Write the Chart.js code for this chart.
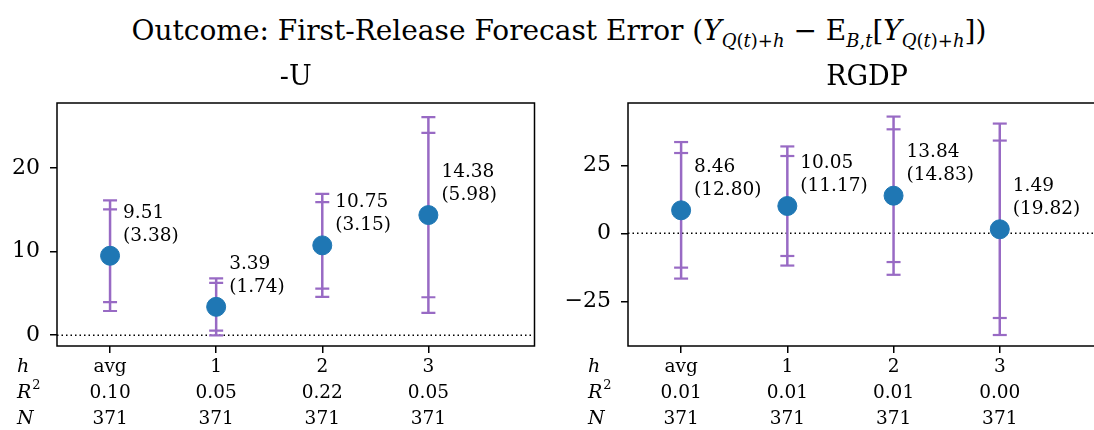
<!DOCTYPE html>
<html>
<head>
<meta charset="utf-8">
<script src="https://cdn.jsdelivr.net/npm/chart.js"></script>
<style>
    body {
        margin: 0;
        padding: 0;
        background: white;
        overflow: hidden;
        width: 1094px;
        height: 430px;
        position: relative;
        font-family: 'DejaVu Serif', serif;
    }
    #title {
        position: absolute;
        left: 559px;
        top: 14px;
        transform: translateX(-50%);
        white-space: nowrap;
        font-size: 28px;
        line-height: 34px;
        color: black;
    }
    #title sub {
        font-size: 18px;
        line-height: 0;
    }
    .panel {
        position: absolute;
        top: 0;
        height: 430px;
        overflow: hidden;
    }
    #left_panel { left: 0; width: 545px; }
    #right_panel { left: 545px; width: 549px; }
</style>
</head>
<body>
<div id="title">Outcome: First-Release Forecast Error (<i>Y</i><sub><i>Q</i>(<i>t</i>)+<i>h</i></sub> − E<sub><i>B</i>,<i>t</i></sub>[<i>Y</i><sub><i>Q</i>(<i>t</i>)+<i>h</i></sub>])</div>
<div class="panel" id="left_panel"><canvas id="chart_u" width="545" height="430"></canvas></div>
<div class="panel" id="right_panel"><canvas id="chart_g" width="575" height="430"></canvas></div>
<script>
    // horizons (x categories)
    const horizons = ['avg', '1', '2', '3'];

    // -U panel
    const uEst = [9.51, 3.39, 10.75, 14.38];
    const uSe = ['3.38', '1.74', '3.15', '5.98'];
    const uLo95 = [2.89, -0.02, 4.58, 2.66];
    const uLo90 = [3.95, 0.53, 5.57, 4.54];
    const uHi90 = [15.07, 6.25, 15.93, 24.22];
    const uHi95 = [16.13, 6.80, 16.92, 26.10];
    const uR2 = ['0.10', '0.05', '0.22', '0.05'];
    const uN = ['371', '371', '371', '371'];
    const uTicks = [0, 10, 20];

    // RGDP panel
    const gEst = [8.46, 10.05, 13.84, 1.49];
    const gSe = ['12.80', '11.17', '14.83', '19.82'];
    const gLo95 = [-16.63, -11.84, -15.23, -37.36];
    const gLo90 = [-12.60, -8.32, -10.55, -31.11];
    const gHi90 = [29.52, 28.42, 38.23, 34.09];
    const gHi95 = [33.55, 31.94, 42.91, 40.34];
    const gR2 = ['0.01', '0.01', '0.01', '0.00'];
    const gN = ['371', '371', '371', '371'];
    const gTicks = [-25, 0, 25];

    const FONT = "'DejaVu Serif', serif";
    const BLUE = '#1f77b4';
    const PURPLE = 'rgb(152, 106, 196)';

    // subtitle, box, annotations and table row labels
    const extras = {
        id: 'extras',
        afterDraw(chart, args, opts) {
            const ctx = chart.ctx;
            const a = chart.chartArea;
            const xs = chart.scales.x;
            const ys = chart.scales.y;
            ctx.save();

            // axes box
            ctx.strokeStyle = 'black';
            ctx.lineWidth = 1.5;
            ctx.strokeRect(a.left, a.top, a.right - a.left, a.bottom - a.top);

            // subtitle
            ctx.fillStyle = 'black';
            ctx.textAlign = 'center';
            ctx.textBaseline = 'middle';
            ctx.font = '27px ' + FONT;
            ctx.fillText(opts.subtitle, (a.left + a.right) / 2, a.top - 25);

            // estimate / (se) labels next to each point
            ctx.textAlign = 'left';
            ctx.font = '18.5px ' + FONT;
            opts.est.forEach((v, i) => {
                const px = xs.getPixelForValue(i);
                const py = ys.getPixelForValue(v);
                ctx.fillText(v.toFixed(2), px + 13, py - 43);
                ctx.fillText('(' + opts.se[i] + ')', px + 13, py - 20);
            });

            // table row labels
            const lx = a.left - 40;
            ctx.font = 'italic 19px ' + FONT;
            ctx.fillText('h', lx, a.bottom + 21);
            ctx.fillText('R', lx, a.bottom + 47);
            const rw = ctx.measureText('R').width;
            ctx.fillText('N', lx, a.bottom + 73);
            ctx.font = '13px ' + FONT;
            ctx.fillText('2', lx + rw + 1, a.bottom + 40);
            ctx.restore();
        }
    };

    function makeChart(canvasId, cfg) {
        const datasets = [];
        // points on top
        datasets.push({
            type: 'scatter',
            data: cfg.est.map((v, i) => ({ x: i, y: v })),
            backgroundColor: BLUE,
            borderColor: BLUE,
            pointRadius: 9.5,
            pointHoverRadius: 9.5,
            order: 0
        });
        // error bars with 90% and 95% caps
        cfg.est.forEach((v, i) => {
            datasets.push({
                type: 'line',
                data: [
                    { x: i, y: cfg.lo95[i] },
                    { x: i, y: cfg.lo90[i] },
                    { x: i, y: cfg.hi90[i] },
                    { x: i, y: cfg.hi95[i] }
                ],
                borderColor: PURPLE,
                borderWidth: 2.5,
                pointStyle: 'line',
                pointRadius: 7,
                pointBorderWidth: 2.2,
                pointBorderColor: PURPLE,
                order: 1
            });
        });
        // dotted zero line
        datasets.push({
            type: 'line',
            data: [{ x: -0.5, y: 0 }, { x: 4.5, y: 0 }],
            borderColor: 'black',
            borderWidth: 1.5,
            borderDash: [1.5, 3],
            pointRadius: 0,
            order: 2
        });

        return new Chart(document.getElementById(canvasId), {
            type: 'scatter',
            data: { datasets: datasets },
            plugins: [extras],
            options: {
                responsive: false,
                animation: false,
                events: [],
                layout: {
                    padding: { top: 103, right: cfg.padRight, bottom: 0, left: 0 }
                },
                plugins: {
                    legend: { display: false },
                    tooltip: { enabled: false },
                    extras: { subtitle: cfg.subtitle, est: cfg.est, se: cfg.se }
                },
                scales: {
                    x: {
                        type: 'linear',
                        min: -0.5,
                        max: 4,
                        afterBuildTicks: (s) => { s.ticks = horizons.map((_, i) => ({ value: i })); },
                        afterFit: (s) => { s.height = 84; },
                        border: { display: false },
                        grid: { drawOnChartArea: false, drawTicks: true, tickLength: 7, color: 'black', lineWidth: 1.5 },
                        ticks: {
                            color: 'black',
                            padding: 1,
                            maxRotation: 0,
                            autoSkip: false,
                            font: { family: FONT, size: 18.5, lineHeight: 26 / 18.5 },
                            callback: (val, idx) => [horizons[idx], cfg.r2[idx], cfg.n[idx]]
                        }
                    },
                    y: {
                        type: 'linear',
                        min: cfg.yMin,
                        max: cfg.yMax,
                        afterBuildTicks: (s) => { s.ticks = cfg.yTicks.map(v => ({ value: v })); },
                        afterFit: (s) => { s.width = cfg.yWidth; },
                        border: { display: false },
                        grid: { drawOnChartArea: false, drawTicks: true, tickLength: 7, color: 'black', lineWidth: 1.5 },
                        ticks: {
                            color: 'black',
                            padding: 10,
                            font: { family: FONT, size: 22 },
                            callback: (val) => String(val).replace('-', '\u2212')
                        }
                    }
                }
            }
        });
    }

    makeChart('chart_u', {
        subtitle: '-U', est: uEst, se: uSe,
        lo95: uLo95, lo90: uLo90, hi90: uHi90, hi95: uHi95,
        r2: uR2, n: uN, yTicks: uTicks, yMin: -1.3, yMax: 27.8,
        yWidth: 57, padRight: 10
    });

    makeChart('chart_g', {
        subtitle: 'RGDP', est: gEst, se: gSe,
        lo95: gLo95, lo90: gLo90, hi90: gHi90, hi95: gHi95,
        r2: gR2, n: gN, yTicks: gTicks, yMin: -41.4, yMax: 47.9,
        yWidth: 83, padRight: 14
    });
</script>
</body>
</html>
